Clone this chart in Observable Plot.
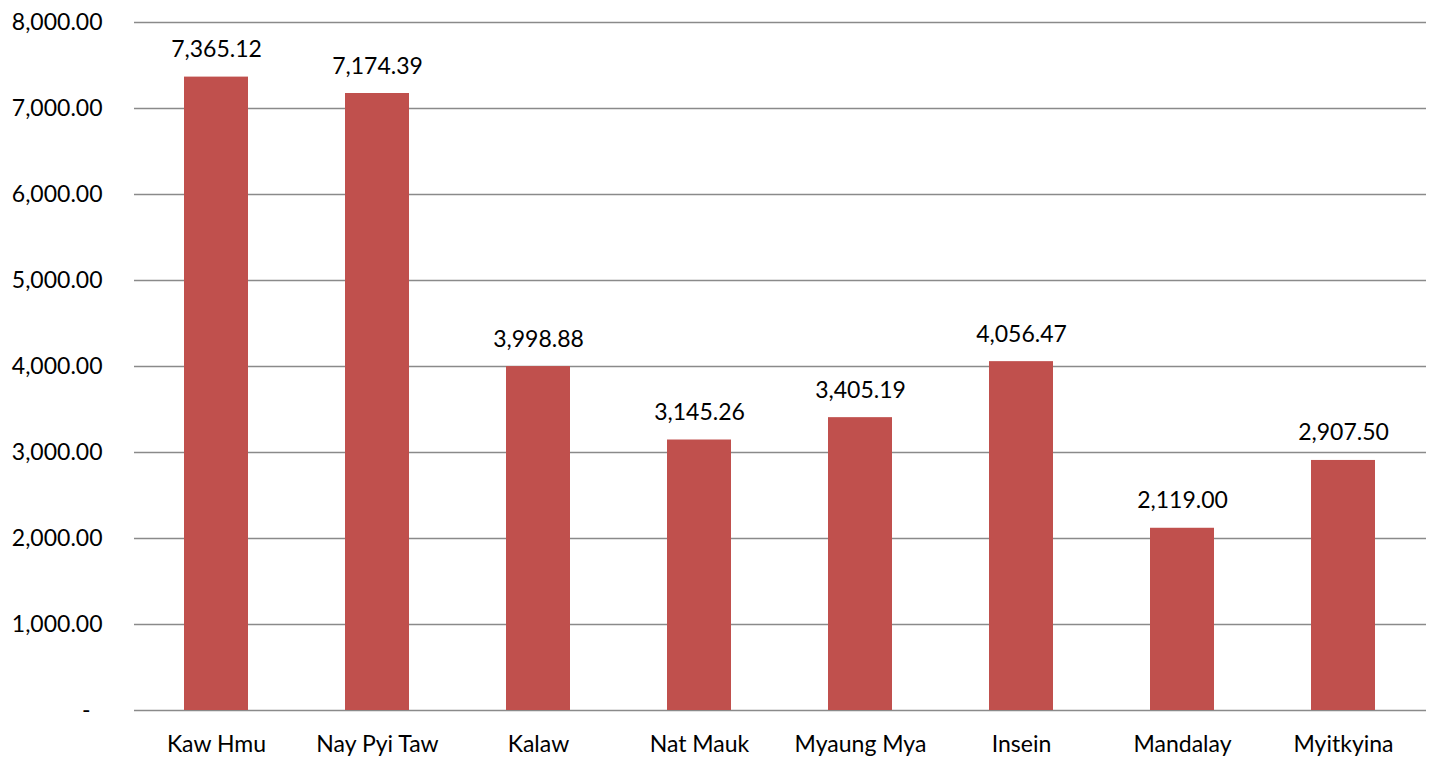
<!DOCTYPE html>
<html>
<head>
<meta charset="utf-8">
<script src="https://cdn.jsdelivr.net/npm/d3@7"></script>
<script src="https://cdn.jsdelivr.net/npm/@observablehq/plot@0.6"></script>
<style>
  html, body { margin: 0; padding: 0; background: #fff; }
  #chart { width: 1434px; height: 759px; }
</style>
</head>
<body>
<div id="chart"></div>
<script>
const categories = ["Kaw Hmu", "Nay Pyi Taw", "Kalaw", "Nat Mauk", "Myaung Mya", "Insein", "Mandalay", "Myitkyina"];
const values = [7365.12, 7174.39, 3998.88, 3145.26, 3405.19, 4056.47, 2119.00, 2907.50];
const yTicks = [0, 1000, 2000, 3000, 4000, 5000, 6000, 7000, 8000];

const data = categories.map((c, i) => ({category: c, value: values[i]}));
const fmt = d3.format(",.2f");
const font = "Lato, 'Open Sans', sans-serif";

const chart = Plot.plot({
  width: 1434,
  height: 759,
  marginLeft: 134,
  marginRight: 8,
  marginTop: 22,
  marginBottom: 49,
  style: {fontFamily: font, fontSize: "23px", color: "#000", background: "#fff"},
  x: {domain: categories, paddingInner: 0.6, paddingOuter: 0.3, label: null},
  y: {domain: [0, 8000], label: null},
  marks: [
    Plot.ruleY(yTicks, {stroke: "#8a8a8a", strokeWidth: 1.5}),
    Plot.ruleX([0], {x: () => null, frameAnchor: "left", stroke: "#8a8a8a", strokeWidth: 1.5}),
    Plot.barY(data, {x: "category", y: "value", fill: "#C0504D"}),
    Plot.text(data, {x: "category", y: "value", text: d => fmt(d.value), dy: -20, lineAnchor: "bottom", fill: "#000"}),
    Plot.axisY(yTicks.filter(d => d !== 0), {tickSize: 0, tickPadding: 32, tickFormat: fmt, fill: "#000"}),
    Plot.axisY([0], {tickSize: 0, tickPadding: 44, tickFormat: () => "-", fill: "#000"}),
    Plot.axisX({tickSize: 0, tickPadding: 25, fill: "#000"})
  ]
});
document.getElementById("chart").appendChild(chart);
</script>
</body>
</html>
